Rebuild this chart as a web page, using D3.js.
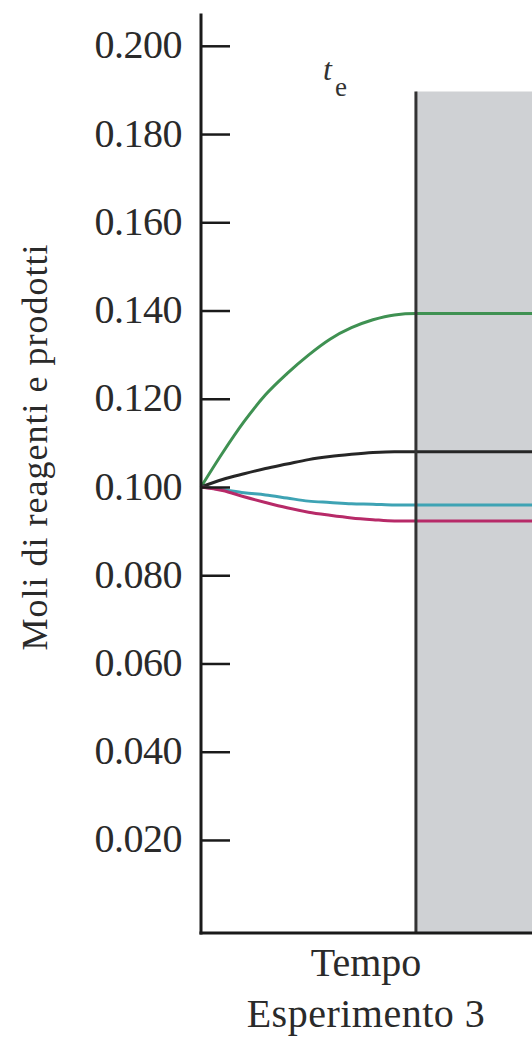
<!DOCTYPE html>
<html><head><meta charset="utf-8">
<script src="https://cdn.jsdelivr.net/npm/d3@7"></script>
<style>html,body{margin:0;padding:0;background:#fff;}svg{display:block;}</style>
</head><body>
<svg id="c" width="532" height="1037"></svg>
<script>
// Data
const times = [0, 1, 2, 3, 4, 5, 6, 7, 8, 9, 10, 15.4];
const equilibriumTime = 10;
const yTicks = [0.020, 0.040, 0.060, 0.080, 0.100, 0.120, 0.140, 0.160, 0.180, 0.200];
const greenSeries   = [0.1000, 0.1077, 0.1148, 0.1209, 0.1257, 0.1299, 0.1335, 0.1361, 0.1379, 0.1390, 0.1393, 0.1393];
const blackSeries   = [0.1000, 0.1017, 0.1030, 0.1042, 0.1052, 0.1062, 0.1069, 0.1074, 0.1078, 0.1080, 0.1080, 0.1080];
const cyanSeries    = [0.1000, 0.0994, 0.0987, 0.0982, 0.0975, 0.0968, 0.0965, 0.0962, 0.0961, 0.0959, 0.0959, 0.0959];
const magentaSeries = [0.1000, 0.0992, 0.0978, 0.0965, 0.0953, 0.0943, 0.0936, 0.0930, 0.0926, 0.0923, 0.0923, 0.0923];
const seriesList = [
  {name: "verde", values: greenSeries, color: "#3f9152"},
  {name: "nero", values: blackSeries, color: "#262626"},
  {name: "ciano", values: cyanSeries, color: "#3ea3b4"},
  {name: "magenta", values: magentaSeries, color: "#b72a68"}
];

const svg = d3.select("#c");
const x = d3.scaleLinear().domain([0, 15.4]).range([201, 532]);
const y = d3.scaleLinear().domain([0, 0.2]).range([928.2, 45.8]);
const serif = "'Liberation Serif', 'DejaVu Serif', serif";

// shaded equilibrium region
svg.append("rect")
  .attr("x", x(equilibriumTime)).attr("y", 91.5)
  .attr("width", x(15.4) - x(equilibriumTime)).attr("height", 933 - 91.5)
  .attr("fill", "#cfd1d4");

// lines
const line = d3.line().x((d, i) => x(times[i])).y(d => y(d)).curve(d3.curveMonotoneX);
svg.selectAll("path.series").data(seriesList).join("path")
  .attr("class", "series")
  .attr("d", d => line(d.values))
  .attr("fill", "none")
  .attr("stroke", d => d.color)
  .attr("stroke-width", 3);

// equilibrium vertical line
svg.append("line")
  .attr("x1", x(equilibriumTime)).attr("x2", x(equilibriumTime))
  .attr("y1", 91.5).attr("y2", 933)
  .attr("stroke", "#333").attr("stroke-width", 3);

// y axis
const yAxis = d3.axisLeft(y).tickValues(yTicks).tickFormat(d3.format(".3f"))
  .tickSizeInner(-29).tickSizeOuter(0).tickPadding(19);
const gy = svg.append("g").attr("transform", "translate(201,0)").call(yAxis);
gy.select(".domain").remove();
gy.selectAll(".tick line").attr("stroke", "#1a1a1a").attr("stroke-width", 2.5);
gy.selectAll(".tick text")
  .attr("font-family", serif).attr("font-size", 40).attr("fill", "#2a2a2a")
  .attr("letter-spacing", -0.5).attr("dy", "0.3em");

// axis lines
svg.append("line").attr("x1", 201).attr("x2", 201).attr("y1", 13.5).attr("y2", 934.5)
  .attr("stroke", "#1a1a1a").attr("stroke-width", 3);
svg.append("line").attr("x1", 199.5).attr("x2", 532).attr("y1", 933).attr("y2", 933)
  .attr("stroke", "#1a1a1a").attr("stroke-width", 3);

// t_e label
const te = svg.append("text").attr("x", 323).attr("y", 80)
  .attr("font-family", serif).attr("fill", "#333");
te.append("tspan").attr("font-size", 32).attr("font-style", "italic").text("t");
te.append("tspan").attr("font-size", 27).attr("dx", 3).attr("dy", 16).text("e");

// axis titles
svg.append("text")
  .attr("transform", "translate(47,447) rotate(-90)")
  .attr("text-anchor", "middle")
  .attr("font-family", serif).attr("font-size", 36).attr("letter-spacing", 1).attr("fill", "#2a2a2a")
  .text("Moli di reagenti e prodotti");
svg.append("text").attr("x", 366).attr("y", 976).attr("text-anchor", "middle")
  .attr("font-family", serif).attr("font-size", 40).attr("fill", "#2a2a2a")
  .text("Tempo");
svg.append("text").attr("x", 366).attr("y", 1027).attr("text-anchor", "middle")
  .attr("font-family", serif).attr("font-size", 40).attr("letter-spacing", 0.5).attr("fill", "#2a2a2a")
  .text("Esperimento 3");
</script>
</body></html>
